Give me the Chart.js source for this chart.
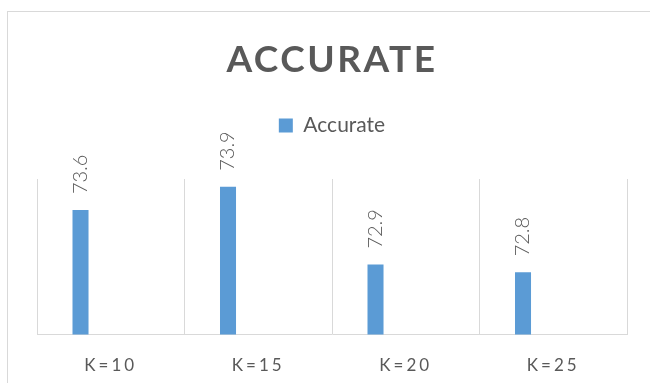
<!DOCTYPE html>
<html>
<head>
<meta charset="utf-8">
<script src="https://cdn.jsdelivr.net/npm/chart.js@4.4.1/dist/chart.umd.min.js"></script>
<style>
  body { margin: 0; background: #fff; }
  #wrap { position: relative; width: 650px; height: 383px; overflow: hidden; }
  #frame { position: absolute; left: 7px; top: 11px; width: 700px; height: 400px; border: 1px solid #d9d9d9; }
  #chart { position: absolute; left: 0; top: 0; }
</style>
</head>
<body>
<div id="wrap">
  <div id="frame"></div>
  <canvas id="chart" width="650" height="383"></canvas>
</div>
<script>
// Data
const categories = ['K=10', 'K=15', 'K=20', 'K=25'];
const accurate = [73.6, 73.9, 72.9, 72.8];
const seriesName = 'Accurate';
const yMin = 72;
const yMax = 74;

const textColor = '#595959';
const barColor = '#5b9bd5';
const gridColor = '#d9d9d9';
const fontFamily = 'Lato, "Open Sans", sans-serif';

// wraps a draw fn so its text gets letter spacing
function spaced(obj, fnName, spacing) {
    if (!obj || obj['_sp_' + fnName]) return;
    const orig = obj[fnName];
    obj[fnName] = function() {
        const c = this.ctx;
        c.save();
        c.letterSpacing = spacing;
        orig.apply(this, arguments);
        c.restore();
    };
    obj['_sp_' + fnName] = true;
}

const letterSpacingPlugin = {
    id: 'letterSpacing',
    afterLayout(chart) {
        spaced(chart.titleBlock, 'draw', '2.5px');
        spaced(chart.scales.x, 'drawLabels', '3px');
    }
};

// empty box between legend and plot, like the gap in the excel chart
const legendGap = {
    id: 'legendGap',
    beforeInit(chart) {
        Chart.layouts.addBox(chart, {
            position: 'top',
            weight: 1,
            fullSize: true,
            options: {},
            width: 0, height: 0, top: 0, left: 0, right: 0, bottom: 0,
            isHorizontal() { return true; },
            update(maxWidth) { this.width = maxWidth; this.height = 33; },
            draw() {}
        });
    }
};

// rotated value labels above each bar
const valueLabels = {
    id: 'valueLabels',
    afterDatasetsDraw(chart) {
        const ctx = chart.ctx;
        const meta = chart.getDatasetMeta(0);
        ctx.save();
        ctx.fillStyle = textColor;
        ctx.font = '300 20px ' + fontFamily;
        ctx.textAlign = 'left';
        ctx.textBaseline = 'middle';
        meta.data.forEach((bar, i) => {
            ctx.save();
            ctx.translate(bar.x, bar.y - 16);
            ctx.rotate(-Math.PI / 2);
            ctx.fillText(accurate[i].toFixed(1), 0, 0);
            ctx.restore();
        });
        ctx.restore();
    }
};

const ctx = document.getElementById('chart').getContext('2d');
new Chart(ctx, {
    type: 'bar',
    data: {
        labels: categories,
        datasets: [{
            label: seriesName,
            data: accurate,
            backgroundColor: barColor,
            borderWidth: 0,
            categoryPercentage: 0.82,
            barPercentage: 0.265
        }, {
            label: '',
            data: categories.map(() => null),
            backgroundColor: 'rgba(0,0,0,0)',
            categoryPercentage: 0.82,
            barPercentage: 0.265
        }]
    },
    options: {
        responsive: false,
        animation: false,
        layout: { padding: { left: 37, right: 23, top: 0, bottom: -14 } },
        plugins: {
            title: {
                display: true,
                text: 'ACCURATE',
                color: textColor,
                font: { family: fontFamily, size: 37, weight: 'bold', lineHeight: 0.8 },
                padding: { top: 45, bottom: 0 }
            },
            legend: {
                display: true,
                labels: {
                    color: textColor,
                    boxWidth: 14,
                    boxHeight: 14,
                    padding: 40.4,
                    font: { family: fontFamily, size: 21 },
                    filter: item => item.text !== ''
                }
            },
            tooltip: { enabled: false }
        },
        scales: {
            x: {
                grid: { color: gridColor, lineWidth: 1, drawTicks: false, offset: true },
                border: { display: true, color: gridColor, width: 1 },
                ticks: {
                    color: textColor,
                    padding: 21,
                    font: { family: fontFamily, size: 17 }
                }
            },
            y: {
                display: false,
                min: yMin,
                max: yMax
            }
        }
    },
    plugins: [letterSpacingPlugin, legendGap, valueLabels]
});
</script>
</body>
</html>
